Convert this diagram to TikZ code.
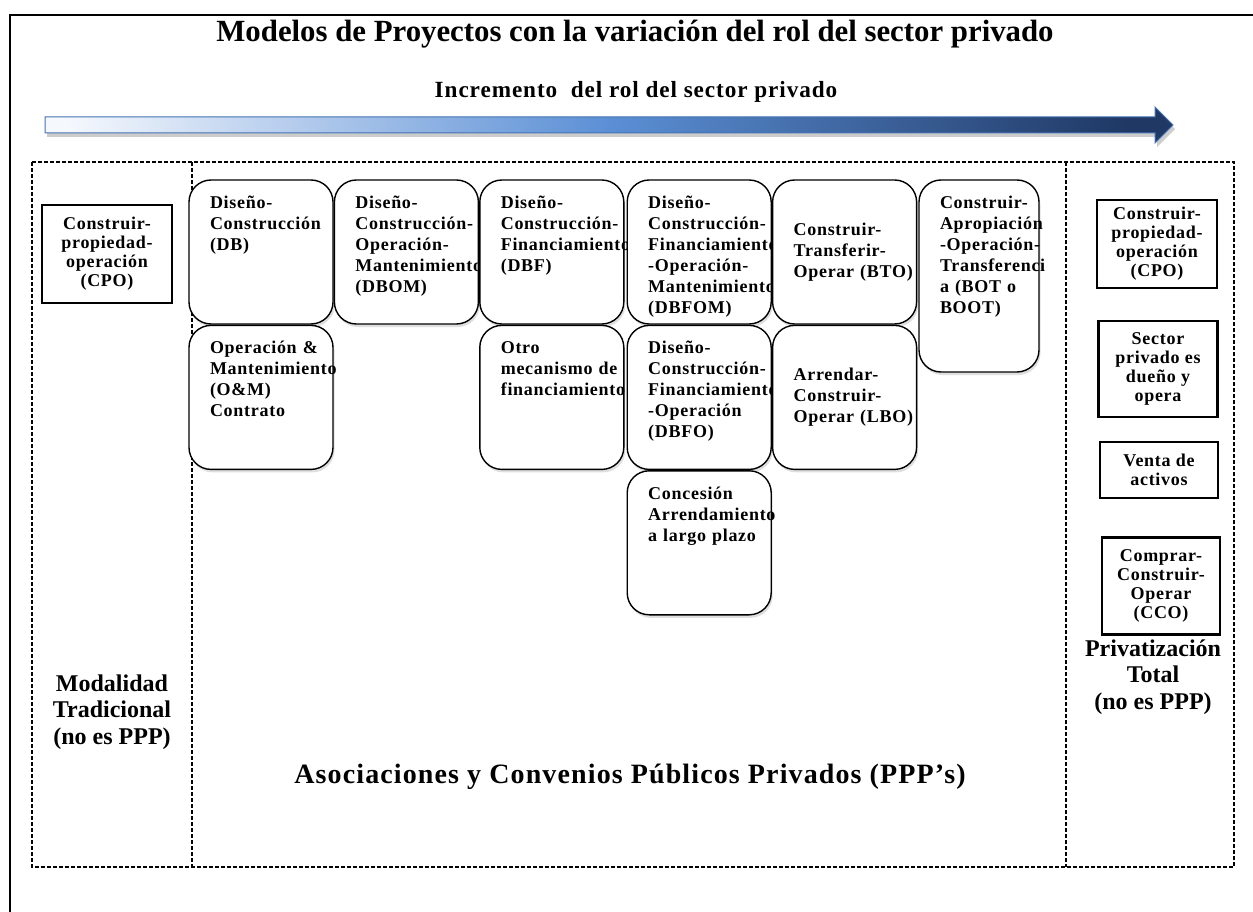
\documentclass[tikz,border=0pt]{standalone}
\usepackage{fontspec}
\setmainfont{Liberation Serif}
\newfontfamily\wideserif[LetterSpace=4]{Liberation Serif}
\usetikzlibrary{positioning,shadows}

\definecolor{arrowlight}{HTML}{F5F8FD}
\definecolor{arrowdark}{HTML}{1F3864}
\definecolor{arrowmid}{HTML}{5B8FD5}
\definecolor{arrowedge}{HTML}{4472B4}

% the path is mapped onto the 25bp..75bp part of the shading
\pgfdeclarehorizontalshading{arrowshade}{100bp}{
  color(0bp)=(arrowlight); color(26bp)=(arrowlight); color(50bp)=(arrowmid);
  color(73bp)=(arrowdark); color(100bp)=(arrowdark)}

% no breaks after the hyphens that end the lines
\exhyphenpenalty=10000
\hyphenpenalty=10000

% top aligned text inside a fixed height box
\newcommand{\toptext}[2][112pt]{\parbox[c][#1][t]{\linewidth}{#2}}

\begin{document}
\begin{tikzpicture}[x=1pt, y=-1pt,
    ppp/.style={
        draw,
        fill=white,
        line width=1.4pt,
        rounded corners=22pt,
        minimum width=144pt,
        minimum height=144pt,
        text width=102pt,
        align=left,
        inner xsep=21pt,
        inner ysep=16pt,
        font=\bfseries\wideserif\fontsize{18}{21}\selectfont,
        drop shadow={opacity=0.25, shadow xshift=1.5pt, shadow yshift=-3pt}
    },
    sqbox/.style={
        draw,
        line width=2.2pt,
        align=center,
        inner sep=2pt,
        font=\bfseries\wideserif\fontsize{18}{19}\selectfont
    },
    zone/.style={line width=1.3pt, dash pattern=on 4pt off 2pt},
    zonelabel/.style={align=center, font=\bfseries\fontsize{24}{26.5}\selectfont},
    node distance=0pt
]

\useasboundingbox (0,0) rectangle (1253,912);

% outer frame (right and bottom edges lie outside the page)
\draw[line width=1.6pt] (10,912) -- (10,15) -- (1253,15);

%% ===== TITLE AND ARROW =====
\node[anchor=base, font=\bfseries\fontsize{30.8}{35}\selectfont] (title) at (635,42)
  {Modelos de Proyectos con la variación del rol del sector privado};

\node[anchor=base, font=\bfseries\wideserif\fontsize{23.2}{27}\selectfont] (incr) at (636,98)
  {Incremento\ \ del rol del sector privado};

\fill[black, opacity=0.2]
  (47,121) -- (1157,121) -- (1157,111) -- (1175,129) -- (1157,147)
  -- (1157,137) -- (47,137) -- cycle;
\path[shading=arrowshade, draw=arrowedge, line width=1pt]
  (45,117) -- (1155,117) -- (1155,107) -- (1173,125) -- (1155,143)
  -- (1155,133) -- (45,133) -- cycle;

%% ===== ZONES =====
\draw[zone] (32,162) rectangle (1234,867);
\draw[zone] (192,162) -- (192,867);
\draw[zone] (1066,162) -- (1066,867);

%% ===== LEFT: TRADITIONAL =====
\node[sqbox, minimum width=130pt, minimum height=98pt] (cpoL) at (107,254)
  {Construir-\\propiedad-\\operación\\(CPO)};

\node[zonelabel] (trad) at (112,712) {Modalidad\\Tradicional\\(no es PPP)};

%% ===== MIDDLE: PPP MODELS =====
\node[ppp] (db) at (261,252) {\toptext{Diseño-\\Construcción\\(DB)}};
\node[ppp, right=of db] (dbom) {\toptext{Diseño-\\Construcción-\\Operación-\\Mantenimiento\\(DBOM)}};
\node[ppp, right=of dbom] (dbf) {\toptext{Diseño-\\Construcción-\\Financiamiento\\(DBF)}};
\node[ppp, right=2pt of dbf] (dbfom) {\toptext{Diseño-\\Construcción-\\Financiamiento\\-Operación-\\Mantenimiento\\(DBFOM)}};
\node[ppp, right=of dbfom] (bto) {Construir-\\Transferir-\\Operar~(BTO)};
\node[ppp, minimum width=120pt, minimum height=192pt, text width=78pt,
      right=1pt of bto.north east, anchor=north west] (boot)
  {\toptext[160pt]{Construir-\\Apropiación\\-Operación-\\Transferenci\\a~(BOT~o\\BOOT)}};

\node[ppp, below=of db] (om) {\toptext{Operación~\&\\Mantenimiento\\(O\&M)\\Contrato}};
\node[ppp, below=of dbf] (otro) {\toptext{Otro\\mecanismo~de\\financiamiento}};
\node[ppp, below=of dbfom] (dbfo) {\toptext{Diseño-\\Construcción-\\Financiamiento\\-Operación\\(DBFO)}};
\node[ppp, below=of bto] (lbo) {Arrendar-\\Construir-\\Operar~(LBO)};
\node[ppp, below=of dbfo] (conc) {\toptext{Concesión\\Arrendamiento\\a~largo~plazo}};

\node[anchor=base, font=\bfseries\wideserif\fontsize{28}{32}\selectfont] (ppps) at (630,783)
  {Asociaciones y Convenios Públicos Privados (PPP’s)};

%% ===== RIGHT: PRIVATIZATION =====
\node[sqbox, minimum width=120pt, minimum height=88pt] (cpoR) at (1157,244)
  {Construir-\\propiedad-\\operación\\(CPO)};
\node[sqbox, minimum width=119pt, minimum height=96pt] (priv) at (1158,369)
  {Sector\\privado es\\dueño y\\opera};
\node[sqbox, minimum width=118pt, minimum height=56pt] (venta) at (1159,470)
  {Venta de\\activos};
\node[sqbox, minimum width=118pt, minimum height=97pt] (cco) at (1161,586)
  {Comprar-\\Construir-\\Operar\\(CCO)};

\node[zonelabel] (total) at (1153,677) {Privatización\\Total\\(no es PPP)};

\end{tikzpicture}
\end{document}
